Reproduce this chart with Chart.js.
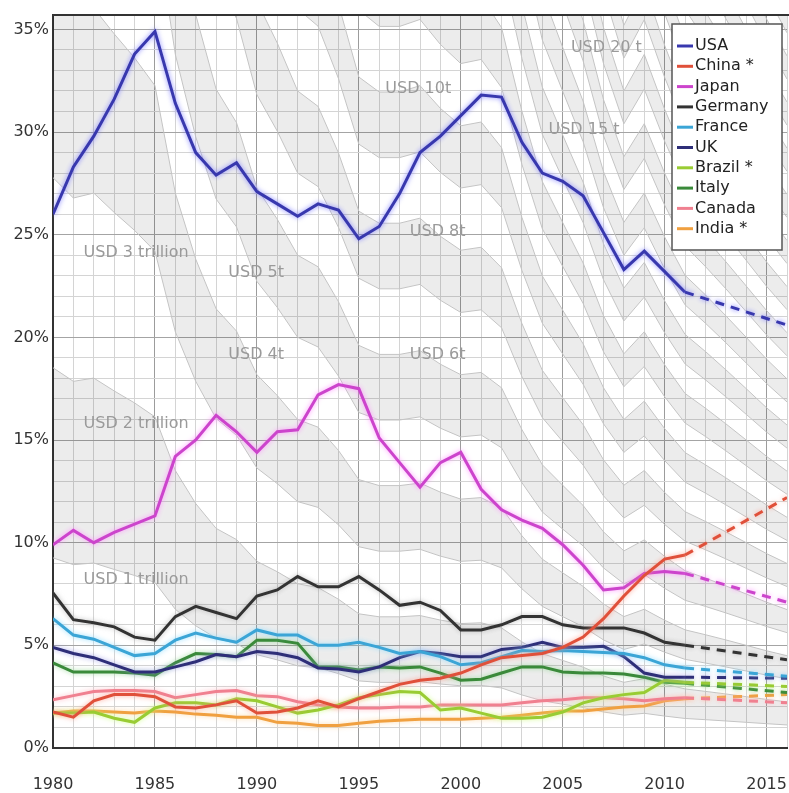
<!DOCTYPE html>
<html>
<head>
<meta charset="utf-8">
<script src="https://cdn.jsdelivr.net/npm/chart.js@4.4.0/dist/chart.umd.min.js"></script>
<style>
  html, body { margin: 0; padding: 0; background: #fff; }
</style>
</head>
<body>
<canvas id="shareChart" width="789" height="793"></canvas>
<script>
// share of world GDP (%), 1980-2011 actual, last value = 2016 projection
const years = [1980, 1981, 1982, 1983, 1984, 1985, 1986, 1987, 1988, 1989, 1990, 1991, 1992, 1993, 1994, 1995,
  1996, 1997, 1998, 1999, 2000, 2001, 2002, 2003, 2004, 2005, 2006, 2007, 2008, 2009, 2010, 2011, 2016];
const usa = [26.0, 28.3, 29.8, 31.6, 33.8, 34.9, 31.4, 29.0, 27.9, 28.5, 27.1, 26.5, 25.9, 26.5, 26.2, 24.8,
  25.4, 27.0, 29.0, 29.8, 30.8, 31.8, 31.7, 29.5, 28.0, 27.6, 26.9, 25.1, 23.3, 24.2, 23.2, 22.2, 20.6];
const china = [1.75, 1.5, 2.3, 2.6, 2.6, 2.5, 2.0, 1.95, 2.1, 2.3, 1.7, 1.75, 1.95, 2.3, 2.0, 2.4,
  2.75, 3.1, 3.3, 3.4, 3.65, 4.05, 4.4, 4.5, 4.6, 4.9, 5.4, 6.3, 7.4, 8.4, 9.2, 9.4, 12.2];
const japan = [9.9, 10.6, 10.0, 10.5, 10.9, 11.3, 14.2, 15.0, 16.2, 15.4, 14.4, 15.4, 15.5, 17.2, 17.7, 17.5,
  15.1, 13.9, 12.7, 13.9, 14.4, 12.6, 11.6, 11.1, 10.7, 9.9, 8.9, 7.7, 7.8, 8.5, 8.6, 8.5, 7.1];
const germany = [7.55, 6.25, 6.1, 5.9, 5.4, 5.25, 6.4, 6.9, 6.6, 6.3, 7.4, 7.7, 8.35, 7.85, 7.85, 8.35,
  7.7, 6.95, 7.1, 6.7, 5.75, 5.75, 6.0, 6.4, 6.4, 6.0, 5.85, 5.85, 5.85, 5.6, 5.15, 5.0, 4.3];
const france = [6.3, 5.5, 5.3, 4.9, 4.5, 4.6, 5.25, 5.6, 5.35, 5.15, 5.75, 5.5, 5.5, 5.0, 5.0, 5.15,
  4.9, 4.6, 4.7, 4.45, 4.05, 4.15, 4.45, 4.75, 4.7, 4.75, 4.7, 4.65, 4.6, 4.4, 4.05, 3.9, 3.5];
const uk = [4.9, 4.6, 4.4, 4.05, 3.7, 3.7, 3.95, 4.2, 4.55, 4.45, 4.7, 4.6, 4.4, 3.9, 3.85, 3.7,
  3.95, 4.4, 4.7, 4.6, 4.45, 4.45, 4.8, 4.9, 5.15, 4.9, 4.9, 4.95, 4.45, 3.65, 3.45, 3.45, 3.4];
const brazil = [1.7, 1.7, 1.75, 1.45, 1.25, 1.95, 2.2, 2.2, 2.1, 2.4, 2.3, 2.0, 1.7, 1.85, 2.1, 2.45,
  2.6, 2.75, 2.7, 1.85, 1.95, 1.7, 1.45, 1.45, 1.5, 1.75, 2.2, 2.45, 2.6, 2.7, 3.3, 3.2, 3.0];
const italy = [4.15, 3.7, 3.7, 3.7, 3.65, 3.55, 4.15, 4.6, 4.55, 4.45, 5.25, 5.25, 5.1, 3.95, 3.95, 3.8,
  3.95, 3.9, 3.95, 3.65, 3.3, 3.35, 3.65, 3.95, 3.95, 3.7, 3.65, 3.65, 3.6, 3.45, 3.2, 3.15, 2.7];
const canada = [2.35, 2.55, 2.75, 2.8, 2.8, 2.75, 2.45, 2.6, 2.75, 2.8, 2.55, 2.5, 2.25, 2.1, 2.0, 1.95,
  1.95, 2.0, 2.0, 2.1, 2.1, 2.1, 2.1, 2.2, 2.3, 2.35, 2.45, 2.45, 2.4, 2.3, 2.4, 2.45, 2.2];
const india = [1.7, 1.8, 1.8, 1.75, 1.7, 1.8, 1.75, 1.65, 1.6, 1.5, 1.5, 1.25, 1.2, 1.1, 1.1, 1.2,
  1.3, 1.35, 1.4, 1.4, 1.4, 1.45, 1.5, 1.6, 1.7, 1.8, 1.8, 1.9, 2.0, 2.05, 2.3, 2.4, 2.6];
const lastActualYear = 2011;

// background: world GDP (USD trillion)
const contourYears = [1980, 1981, 1982, 1983, 1984, 1985, 1986, 1987, 1988, 1989, 1990, 1991, 1992,
  1993, 1994, 1995, 1996, 1997, 1998, 1999, 2000, 2001, 2002, 2003, 2004, 2005, 2006, 2007, 2008,
  2009, 2010, 2011, 2012, 2013, 2014, 2015, 2016];
const worldGdp = [10.8, 11.2, 11.1, 11.5, 11.9, 12.4, 14.8, 16.8, 18.7, 19.7, 22.0, 23.3, 25.0,
  25.6, 27.6, 30.6, 31.3, 31.3, 31.0, 32.1, 33.0, 32.8, 34.2, 38.7, 43.5, 46.9, 50.8, 57.0, 62.5,
  59.2, 64.3, 69.5, 72.5, 76.0, 80.0, 84.5, 89.0];
const contourLevels = [1, 2, 3, 4, 5, 6, 7, 8, 9, 10, 11, 12, 13, 14, 15, 16, 17, 18, 19, 20,
  21, 22, 23, 24, 25, 26, 27, 28, 29, 30, 31, 32];
const contourLabels = ['USD 1 trillion', 'USD 2 trillion', 'USD 3 trillion', 'USD 4t', 'USD 5t',
  'USD 6t', 'USD 8t', 'USD 10t', 'USD 15 t', 'USD 20 t'];
const contourLabelAt = [[1981.5, 8.2], [1981.5, 15.8], [1981.5, 24.1], [1988.6, 19.15], [1988.6, 23.15],
  [1997.5, 19.15], [1997.5, 25.15], [1996.3, 32.1], [2004.3, 30.1], [2005.4, 34.1]];

const xTickLabels = [1980, 1985, 1990, 1995, 2000, 2005, 2010, 2015];
const yTickLabels = [0, 5, 10, 15, 20, 25, 30, 35];

const countries = [
  { label: 'USA', values: usa, color: '#3838ae', glow: 'rgba(120,120,255,0.9)' },
  { label: 'China *', values: china, color: '#e0503a', glow: 'rgba(255,150,130,0.8)' },
  { label: 'Japan', values: japan, color: '#cc44cc', glow: 'rgba(255,140,255,0.9)' },
  { label: 'Germany', values: germany, color: '#333333', glow: 'rgba(150,150,150,0.6)' },
  { label: 'France', values: france, color: '#3ba5d6', glow: 'rgba(140,220,255,0.9)' },
  { label: 'UK', values: uk, color: '#2e2e78', glow: 'rgba(140,140,230,0.7)' },
  { label: 'Brazil *', values: brazil, color: '#99cc33', glow: 'rgba(200,255,120,0.8)' },
  { label: 'Italy', values: italy, color: '#3a8a3a', glow: 'rgba(130,210,130,0.7)' },
  { label: 'Canada', values: canada, color: '#f08090', glow: 'rgba(255,180,190,0.8)' },
  { label: 'India *', values: india, color: '#f0a040', glow: 'rgba(255,210,150,0.8)' }
];

const FONT = 'DejaVu Sans';

const contourSets = contourLevels.map((lvl, k) => ({
  label: 'USD ' + lvl + 't',
  isContour: true,
  data: contourYears.map((yr, i) => ({ x: yr, y: lvl / worldGdp[i] * 100 })),
  borderColor: '#c4c4c4',
  borderWidth: 1,
  pointRadius: 0,
  tension: 0,
  fill: (lvl % 2 === 0 && k > 0) ? '-1' : false,
  backgroundColor: 'rgba(0,0,0,0.075)',
  order: 5
}));

const countrySets = countries.map(c => ({
  label: c.label,
  data: years.map((yr, i) => ({ x: yr, y: c.values[i] })),
  borderColor: c.color,
  glow: c.glow,
  borderWidth: 3,
  pointRadius: 0,
  tension: 0,
  fill: false,
  order: 0,
  segment: {
    borderDash: ctx => ctx.p0.parsed.x >= lastActualYear ? [9, 7] : undefined
  }
}));

const glowPlugin = {
  id: 'glow',
  beforeDatasetDraw(chart, args) {
    const ds = chart.data.datasets[args.index];
    if (!ds.glow) return;
    chart.ctx.save();
    chart.ctx.shadowColor = ds.glow;
    chart.ctx.shadowBlur = 5;
  },
  afterDatasetDraw(chart, args) {
    const ds = chart.data.datasets[args.index];
    if (ds.glow) chart.ctx.restore();
  }
};

const labelsPlugin = {
  id: 'contourLabels',
  afterDatasetsDraw(chart) {
    const { ctx, scales: { x, y } } = chart;
    ctx.save();
    ctx.font = '16px "' + FONT + '"';
    ctx.fillStyle = '#9a9a9a';
    ctx.textAlign = 'left';
    ctx.textBaseline = 'middle';
    contourLabels.forEach((t, i) => {
      ctx.fillText(t, x.getPixelForValue(contourLabelAt[i][0]), y.getPixelForValue(contourLabelAt[i][1]));
    });
    ctx.restore();
  }
};

const frameLegendPlugin = {
  id: 'frameLegend',
  afterDraw(chart) {
    const { ctx, chartArea } = chart;
    ctx.save();
    // top frame line
    ctx.strokeStyle = '#333';
    ctx.lineWidth = 2;
    ctx.beginPath();
    ctx.moveTo(chartArea.left, chartArea.top);
    ctx.lineTo(chartArea.right + 2, chartArea.top);
    ctx.stroke();

    // legend box
    const bx = 672, by = 24, bw = 110, bh = 226;
    ctx.fillStyle = '#fff';
    ctx.fillRect(bx, by, bw, bh);
    ctx.strokeStyle = '#555';
    ctx.lineWidth = 1.5;
    ctx.strokeRect(bx, by, bw, bh);
    ctx.font = '16px "' + FONT + '"';
    ctx.textBaseline = 'middle';
    ctx.textAlign = 'left';
    chart.data.datasets.filter(d => !d.isContour).forEach((d, i) => {
      const ry = by + 22 + i * 20.3;
      ctx.strokeStyle = d.borderColor;
      ctx.lineWidth = 3;
      ctx.beginPath();
      ctx.moveTo(bx + 5, ry);
      ctx.lineTo(bx + 21, ry);
      ctx.stroke();
      ctx.fillStyle = '#222';
      ctx.fillText(d.label, bx + 23, ry);
    });
    ctx.restore();
  }
};

const canvas = document.getElementById('shareChart');
new Chart(canvas.getContext('2d'), {
  type: 'line',
  data: { datasets: contourSets.concat(countrySets) },
  plugins: [glowPlugin, labelsPlugin, frameLegendPlugin],
  options: {
    responsive: false,
    animation: false,
    devicePixelRatio: 1,
    layout: { padding: { top: 15, right: 2, left: 0, bottom: 0 } },
    plugins: { legend: { display: false }, tooltip: { enabled: false } },
    scales: {
      x: {
        type: 'linear',
        min: 1980,
        max: 2016,
        afterBuildTicks: s => { s.ticks = contourYears.map(v => ({ value: v })); },
        afterFit: s => { s.height = 45; s.paddingLeft = 0; s.paddingRight = 0; },
        grid: {
          drawTicks: false,
          color: c => (c.tick && c.tick.value % 5 === 0) ? '#9c9c9c' : '#d4d4d4',
          lineWidth: 1
        },
        border: { display: true, color: '#333', width: 2 },
        ticks: {
          autoSkip: false,
          maxRotation: 0,
          padding: 27,
          color: '#333',
          font: { family: FONT, size: 16 },
          callback: v => xTickLabels.includes(v) ? String(v) : ''
        }
      },
      y: {
        min: 0,
        max: 35.7,
        afterBuildTicks: s => {
          const t = [];
          for (let v = 0; v <= 35; v++) t.push({ value: v });
          s.ticks = t;
        },
        afterFit: s => { s.width = 53; s.paddingTop = 0; s.paddingBottom = 0; },
        grid: {
          drawTicks: false,
          color: c => (c.tick && c.tick.value % 5 === 0) ? '#a4a4a4' : '#d4d4d4',
          lineWidth: 1
        },
        border: { display: true, color: '#333', width: 2 },
        ticks: {
          autoSkip: false,
          padding: 4,
          color: '#333',
          font: { family: FONT, size: 16 },
          callback: v => yTickLabels.includes(v) ? v + '%' : ''
        }
      }
    }
  }
});
</script>
</body>
</html>
